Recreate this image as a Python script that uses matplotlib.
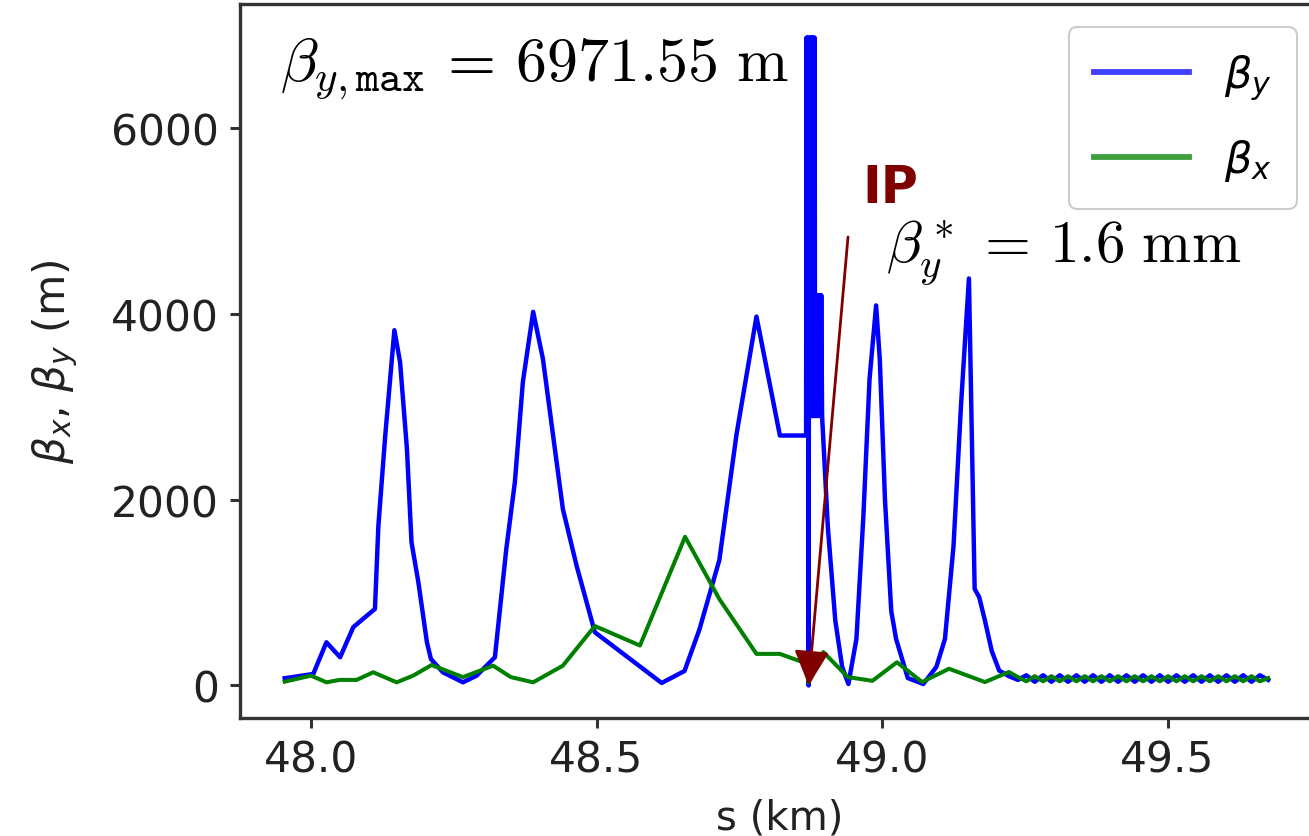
import matplotlib
matplotlib.use('Agg')
import matplotlib.pyplot as plt

# ---------------- data ----------------
s_y = [47.954, 48.004, 48.027, 48.051, 48.074, 48.091, 48.112, 48.118, 48.130, 48.146,
       48.156, 48.168, 48.176, 48.188, 48.203, 48.210, 48.231, 48.266, 48.290, 48.322,
       48.342, 48.357, 48.371, 48.389, 48.406, 48.441, 48.465, 48.497, 48.614, 48.654,
       48.680, 48.715, 48.745, 48.780, 48.821, 48.8669,
       48.8675, 48.8682, 48.8689, 48.8696, 48.8703, 48.8713, 48.8722, 48.8730, 48.8738,
       48.8746, 48.8754, 48.8762, 48.8770, 48.8778, 48.8786, 48.8794, 48.8802, 48.8810,
       48.8818, 48.8826, 48.8838, 48.8850, 48.8862, 48.8874, 48.8886, 48.8898, 48.8910,
       48.8922, 48.8934, 48.8949,
       48.905, 48.918, 48.930, 48.941, 48.955, 48.967, 48.978, 48.9895, 48.996, 49.005,
       49.016, 49.0245, 49.045, 49.072, 49.095, 49.110, 49.125, 49.138, 49.152, 49.162,
       49.170, 49.180, 49.192, 49.205, 49.222,
       49.2380, 49.2526, 49.2672, 49.2818, 49.2964, 49.3110, 49.3256, 49.3402, 49.3548,
       49.3694, 49.3840, 49.3986, 49.4132, 49.4278, 49.4424, 49.4570, 49.4716, 49.4862,
       49.5008, 49.5154, 49.5300, 49.5446, 49.5592, 49.5738, 49.5884, 49.6030, 49.6176,
       49.6322, 49.6468, 49.6614, 49.6760]
beta_y = [78, 124, 465, 304, 627, 716, 824, 1720, 2690, 3823,
          3478, 2545, 1541, 1111, 465, 285, 142, 34, 106, 304,
          1471, 2190, 3267, 4021, 3518, 1900, 1290, 573, 27, 156,
          600, 1350, 2700, 3970, 2690, 2690,
          6971.55, 2700, 6971.55, 2700, 6971.55, 0.0016, 6971.55, 2900, 6971.55,
          2900, 6971.55, 2900, 6971.55, 2900, 6971.55, 2900, 6971.55, 2900,
          6971.55, 2900, 4200, 2900, 4200, 2900, 4200, 2900, 4200,
          2900, 4200, 2900,
          1700, 700, 200, 16, 500, 1800, 3300, 4090, 3500, 2000,
          800, 500, 80, 16, 200, 500, 1500, 3000, 4380, 1040,
          950, 700, 370, 160, 100,
          60, 110, 40, 110, 40, 110, 40, 110, 40,
          110, 40, 110, 40, 110, 40, 110, 40, 110,
          40, 110, 40, 110, 40, 110, 40, 110, 40,
          110, 40, 110, 60]

s_x = [47.954, 48.000, 48.027, 48.050, 48.080, 48.109, 48.150, 48.179, 48.211, 48.266,
       48.319, 48.350, 48.389, 48.441, 48.497, 48.576, 48.655, 48.715, 48.780, 48.821,
       48.866, 48.8713, 48.897, 48.940, 48.983, 49.026, 49.070, 49.117, 49.180, 49.222,
       49.2380, 49.2526, 49.2672, 49.2818, 49.2964, 49.3110, 49.3256, 49.3402, 49.3548,
       49.3694, 49.3840, 49.3986, 49.4132, 49.4278, 49.4424, 49.4570, 49.4716, 49.4862,
       49.5008, 49.5154, 49.5300, 49.5446, 49.5592, 49.5738, 49.5884, 49.6030, 49.6176,
       49.6322, 49.6468, 49.6614, 49.6760]
beta_x = [41, 106, 34, 60, 60, 142, 34, 106, 220, 90,
          213, 90, 34, 213, 640, 430, 1600, 930, 340, 340,
          240, 30, 360, 90, 50, 250, 37, 180, 37, 145,
          90, 45, 100, 45, 100, 45, 100, 45, 100,
          45, 100, 45, 100, 45, 100, 45, 100, 45,
          100, 45, 100, 45, 100, 45, 100, 45, 100,
          45, 100, 45, 80]

x_ticks = [48.0, 48.5, 49.0, 49.5]
y_ticks = [0, 2000, 4000, 6000]
beta_y_max = 6971.55
beta_y_star_mm = 1.6
s_ip = 48.8713

# ---------------- figure ----------------
W, H = 1309, 837
fig = plt.figure(figsize=(W / 100, H / 100), dpi=100)
ax = fig.add_axes([240 / W, 118 / H, 1080 / W, 714 / H])

ax.plot(s_y, beta_y, color='blue', lw=3.2, label=r'$\beta_y$', zorder=2)
ax.plot(s_x, beta_x, color='#008000', lw=2.9, label=r'$\beta_x$', zorder=3)

ax.set_xlim(47.8757, 49.7667)
ax.set_ylim(-350, 7334)
ax.set_xticks(x_ticks)
ax.set_yticks(y_ticks)
ax.set_xticklabels([f'{v:.1f}' for v in x_ticks])
ax.set_yticklabels([str(v) for v in y_ticks])

for sp in ax.spines.values():
    sp.set_linewidth(2.4)
    sp.set_color('#333333')
ax.spines['right'].set_visible(False)
ax.tick_params(axis='both', length=7, width=2.2, color='#333333',
               labelsize=30.5, labelcolor='#222222', pad=8)

ax.set_xlabel('s (km)', fontsize=29, color='#222222')
ax.set_ylabel(r'$\beta_x$, $\beta_y$ (m)', fontsize=30.5, color='#222222')
ax.xaxis.set_label_coords(0.5, -0.112)
ax.yaxis.set_label_coords(-0.148, 0.5)

leg = ax.legend(loc='upper right', bbox_to_anchor=(1297 / W, 1 - 28 / H),
                bbox_transform=fig.transFigure, borderaxespad=0,
                fontsize=31, handlelength=2.2, handletextpad=0.8,
                labelspacing=0.8, borderpad=0.6, fancybox=True,
                edgecolor='#cccccc', framealpha=1.0)
leg.get_frame().set_linewidth(1.5)
for h in leg.legend_handles:
    h.set_alpha(0.75)
    h.set_linewidth(4.2)

# annotations
fig.text(280 / W, 1 - 80 / H,
         r'$\beta_{y,\mathtt{max}}\,=\,%.2f\ \mathrm{m}$' % beta_y_max,
         fontsize=44.5, math_fontfamily='cm', ha='left', va='baseline')
fig.text(862 / W, 1 - 203 / H, 'IP', fontsize=36.5, fontweight='bold',
         color='#800000', ha='left', va='baseline')
fig.text(886 / W, 1 - 262 / H,
         r'$\beta_y^*\,=\,%.1f\ \mathrm{mm}$' % beta_y_star_mm,
         fontsize=42.5, math_fontfamily='cm', ha='left', va='baseline')
ax.annotate('', xy=(s_ip, 0), xycoords='data',
            xytext=(848, H - 238), textcoords='figure pixels',
            arrowprops=dict(arrowstyle='-|>,head_length=0.6,head_width=0.3',
                            color='#800000', lw=2, mutation_scale=36,
                            shrinkA=0, shrinkB=0), zorder=5)

fig.savefig('out.png', dpi=100)
